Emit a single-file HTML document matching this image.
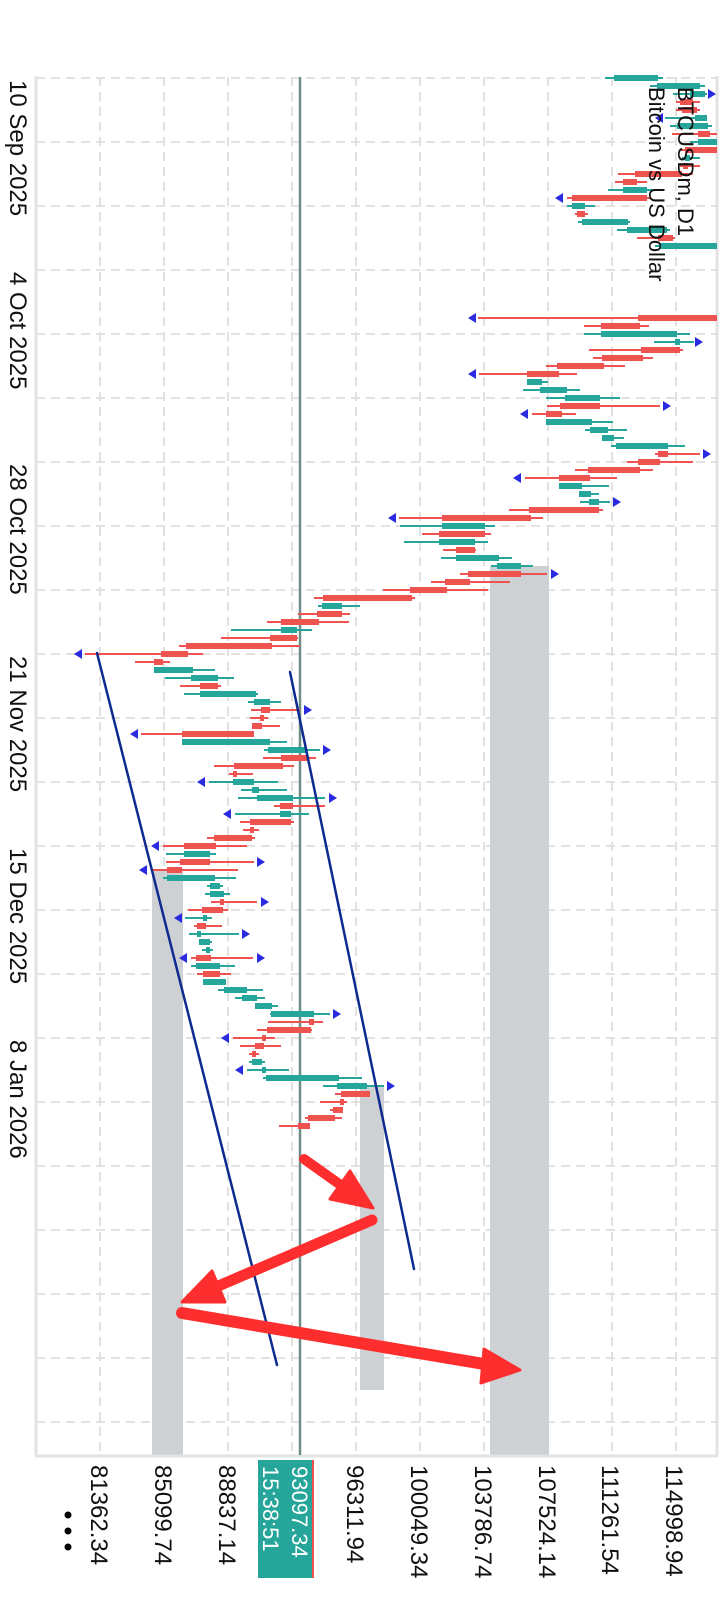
<!DOCTYPE html>
<html><head><meta charset="utf-8"><style>
html,body{margin:0;padding:0;background:#fff;}
svg{display:block;}
text{font-family:"Liberation Sans",sans-serif;}
</style></head><body>
<svg width="720" height="1600" viewBox="0 0 720 1600" xmlns="http://www.w3.org/2000/svg">
<rect width="720" height="1600" fill="#fff"/>
<g stroke="#e2e2e2" stroke-width="2" stroke-dasharray="9,6">
<line x1="100" y1="77" x2="100" y2="1455"/><line x1="164" y1="77" x2="164" y2="1455"/><line x1="228" y1="77" x2="228" y2="1455"/><line x1="292" y1="77" x2="292" y2="1455"/><line x1="356" y1="77" x2="356" y2="1455"/><line x1="420" y1="77" x2="420" y2="1455"/><line x1="484" y1="77" x2="484" y2="1455"/><line x1="548" y1="77" x2="548" y2="1455"/><line x1="612" y1="77" x2="612" y2="1455"/><line x1="676" y1="77" x2="676" y2="1455"/>
<line x1="36" y1="78" x2="717" y2="78"/><line x1="36" y1="142" x2="717" y2="142"/><line x1="36" y1="206" x2="717" y2="206"/><line x1="36" y1="270" x2="717" y2="270"/><line x1="36" y1="334" x2="717" y2="334"/><line x1="36" y1="398" x2="717" y2="398"/><line x1="36" y1="462" x2="717" y2="462"/><line x1="36" y1="526" x2="717" y2="526"/><line x1="36" y1="590" x2="717" y2="590"/><line x1="36" y1="654" x2="717" y2="654"/><line x1="36" y1="718" x2="717" y2="718"/><line x1="36" y1="782" x2="717" y2="782"/><line x1="36" y1="846" x2="717" y2="846"/><line x1="36" y1="910" x2="717" y2="910"/><line x1="36" y1="974" x2="717" y2="974"/><line x1="36" y1="1038" x2="717" y2="1038"/><line x1="36" y1="1102" x2="717" y2="1102"/><line x1="36" y1="1166" x2="717" y2="1166"/><line x1="36" y1="1230" x2="717" y2="1230"/><line x1="36" y1="1294" x2="717" y2="1294"/><line x1="36" y1="1358" x2="717" y2="1358"/><line x1="36" y1="1422" x2="717" y2="1422"/>
</g>
<g fill="#cdd1d4">
<rect x="152" y="870" width="31" height="586"/>
<rect x="360" y="1087" width="24" height="303"/>
<rect x="490" y="566" width="59" height="890"/>
</g>
<g stroke="#e3e3e3" stroke-width="3" fill="none">
<line x1="36" y1="76" x2="36" y2="1456"/><line x1="35" y1="1456" x2="718" y2="1456"/><line x1="717" y1="76" x2="717" y2="1456"/>
</g>
<line x1="300" y1="77" x2="300" y2="1455" stroke="#6e8c88" stroke-width="2.5"/>
<g stroke="#26a69a" stroke-width="2" fill="#26a69a">
<line x1="605" y1="78" x2="663" y2="78"/><rect x="614" y="75" width="44" height="6" stroke="none"/>
<line x1="650" y1="86" x2="705" y2="86"/><rect x="657" y="83" width="43" height="6" stroke="none"/>
<line x1="673" y1="94" x2="707" y2="94"/><rect x="690" y="91" width="15" height="6" stroke="none"/>
<line x1="665" y1="118" x2="707" y2="118"/><rect x="695" y="115" width="12" height="6" stroke="none"/>
<line x1="670" y1="126" x2="712" y2="126"/><rect x="677" y="123" width="31" height="6" stroke="none"/>
<line x1="690" y1="142" x2="717" y2="142"/><rect x="698" y="139" width="19" height="6" stroke="none"/>
<line x1="682" y1="158" x2="700" y2="158"/><rect x="685" y="155" width="5" height="6" stroke="none"/>
<line x1="608" y1="190" x2="657" y2="190"/><rect x="623" y="187" width="24" height="6" stroke="none"/>
<line x1="567" y1="206" x2="595" y2="206"/><rect x="572" y="203" width="13" height="6" stroke="none"/>
<line x1="578" y1="222" x2="630" y2="222"/><rect x="582" y="219" width="46" height="6" stroke="none"/>
<line x1="617" y1="230" x2="670" y2="230"/><rect x="627" y="227" width="40" height="6" stroke="none"/>
<line x1="655" y1="246" x2="717" y2="246"/><rect x="660" y="243" width="57" height="6" stroke="none"/>
<line x1="584" y1="334" x2="690" y2="334"/><rect x="601" y="331" width="76" height="6" stroke="none"/>
<line x1="654" y1="342" x2="694" y2="342"/><rect x="675" y="339" width="5" height="6" stroke="none"/>
<line x1="527" y1="382" x2="548" y2="382"/><rect x="527" y="379" width="15" height="6" stroke="none"/>
<line x1="523" y1="390" x2="580" y2="390"/><rect x="540" y="387" width="27" height="6" stroke="none"/>
<line x1="546" y1="398" x2="620" y2="398"/><rect x="565" y="395" width="35" height="6" stroke="none"/>
<line x1="546" y1="422" x2="613" y2="422"/><rect x="546" y="419" width="46" height="6" stroke="none"/>
<line x1="585" y1="430" x2="627" y2="430"/><rect x="590" y="427" width="18" height="6" stroke="none"/>
<line x1="602" y1="438" x2="624" y2="438"/><rect x="602" y="435" width="12" height="6" stroke="none"/>
<line x1="611" y1="446" x2="685" y2="446"/><rect x="616" y="443" width="52" height="6" stroke="none"/>
<line x1="559" y1="486" x2="609" y2="486"/><rect x="559" y="483" width="23" height="6" stroke="none"/>
<line x1="579" y1="494" x2="599" y2="494"/><rect x="579" y="491" width="12" height="6" stroke="none"/>
<line x1="580" y1="502" x2="610" y2="502"/><rect x="589" y="499" width="10" height="6" stroke="none"/>
<line x1="400" y1="526" x2="495" y2="526"/><rect x="442" y="523" width="43" height="6" stroke="none"/>
<line x1="404" y1="542" x2="488" y2="542"/><rect x="439" y="539" width="36" height="6" stroke="none"/>
<line x1="441" y1="558" x2="512" y2="558"/><rect x="456" y="555" width="43" height="6" stroke="none"/>
<line x1="491" y1="566" x2="533" y2="566"/><rect x="497" y="563" width="24" height="6" stroke="none"/>
<line x1="318" y1="606" x2="360" y2="606"/><rect x="322" y="603" width="20" height="6" stroke="none"/>
<line x1="231" y1="630" x2="312" y2="630"/><rect x="281" y="627" width="16" height="6" stroke="none"/>
<line x1="154" y1="670" x2="215" y2="670"/><rect x="154" y="667" width="39" height="6" stroke="none"/>
<line x1="165" y1="678" x2="234" y2="678"/><rect x="191" y="675" width="27" height="6" stroke="none"/>
<line x1="184" y1="694" x2="258" y2="694"/><rect x="200" y="691" width="56" height="6" stroke="none"/>
<line x1="248" y1="702" x2="281" y2="702"/><rect x="254" y="699" width="16" height="6" stroke="none"/>
<line x1="182" y1="742" x2="287" y2="742"/><rect x="182" y="739" width="88" height="6" stroke="none"/>
<line x1="264" y1="750" x2="320" y2="750"/><rect x="268" y="747" width="39" height="6" stroke="none"/>
<line x1="209" y1="782" x2="278" y2="782"/><rect x="233" y="779" width="21" height="6" stroke="none"/>
<line x1="241" y1="790" x2="287" y2="790"/><rect x="252" y="787" width="7" height="6" stroke="none"/>
<line x1="238" y1="798" x2="325" y2="798"/><rect x="257" y="795" width="36" height="6" stroke="none"/>
<line x1="235" y1="814" x2="309" y2="814"/><rect x="280" y="811" width="11" height="6" stroke="none"/>
<line x1="166" y1="854" x2="216" y2="854"/><rect x="184" y="851" width="26" height="6" stroke="none"/>
<line x1="163" y1="878" x2="236" y2="878"/><rect x="167" y="875" width="48" height="6" stroke="none"/>
<line x1="207" y1="886" x2="223" y2="886"/><rect x="210" y="883" width="10" height="6" stroke="none"/>
<line x1="205" y1="894" x2="230" y2="894"/><rect x="210" y="891" width="14" height="6" stroke="none"/>
<line x1="185" y1="918" x2="212" y2="918"/><rect x="203" y="915" width="4" height="6" stroke="none"/>
<line x1="189" y1="934" x2="239" y2="934"/><rect x="197" y="931" width="4" height="6" stroke="none"/>
<line x1="199" y1="942" x2="212" y2="942"/><rect x="199" y="939" width="11" height="6" stroke="none"/>
<line x1="202" y1="950" x2="213" y2="950"/><rect x="206" y="947" width="4" height="6" stroke="none"/>
<line x1="191" y1="966" x2="235" y2="966"/><rect x="196" y="963" width="24" height="6" stroke="none"/>
<line x1="203" y1="982" x2="226" y2="982"/><rect x="203" y="979" width="23" height="6" stroke="none"/>
<line x1="218" y1="990" x2="263" y2="990"/><rect x="224" y="987" width="23" height="6" stroke="none"/>
<line x1="235" y1="998" x2="265" y2="998"/><rect x="242" y="995" width="15" height="6" stroke="none"/>
<line x1="255" y1="1006" x2="278" y2="1006"/><rect x="255" y="1003" width="17" height="6" stroke="none"/>
<line x1="270" y1="1014" x2="330" y2="1014"/><rect x="271" y="1011" width="43" height="6" stroke="none"/>
<line x1="249" y1="1062" x2="265" y2="1062"/><rect x="252" y="1059" width="10" height="6" stroke="none"/>
<line x1="247" y1="1070" x2="289" y2="1070"/><rect x="262" y="1067" width="4" height="6" stroke="none"/>
<line x1="263" y1="1078" x2="362" y2="1078"/><rect x="266" y="1075" width="73" height="6" stroke="none"/>
<line x1="323" y1="1086" x2="384" y2="1086"/><rect x="337" y="1083" width="30" height="6" stroke="none"/>
</g>
<g stroke="#ef5350" stroke-width="2" fill="#ef5350">
<line x1="676" y1="102" x2="700" y2="102"/><rect x="680" y="99" width="13" height="6" stroke="none"/>
<line x1="676" y1="110" x2="700" y2="110"/><rect x="682" y="107" width="15" height="6" stroke="none"/>
<line x1="672" y1="134" x2="717" y2="134"/><rect x="698" y="131" width="12" height="6" stroke="none"/>
<line x1="680" y1="150" x2="717" y2="150"/><rect x="685" y="147" width="32" height="6" stroke="none"/>
<line x1="680" y1="166" x2="700" y2="166"/><rect x="683" y="163" width="5" height="6" stroke="none"/>
<line x1="618" y1="174" x2="693" y2="174"/><rect x="635" y="171" width="47" height="6" stroke="none"/>
<line x1="615" y1="182" x2="647" y2="182"/><rect x="623" y="179" width="14" height="6" stroke="none"/>
<line x1="567" y1="198" x2="650" y2="198"/><rect x="572" y="195" width="75" height="6" stroke="none"/>
<line x1="575" y1="214" x2="588" y2="214"/><rect x="577" y="211" width="8" height="6" stroke="none"/>
<line x1="637" y1="238" x2="675" y2="238"/><rect x="658" y="235" width="15" height="6" stroke="none"/>
<line x1="478" y1="318" x2="717" y2="318"/><rect x="638" y="315" width="79" height="6" stroke="none"/>
<line x1="584" y1="326" x2="649" y2="326"/><rect x="601" y="323" width="39" height="6" stroke="none"/>
<line x1="589" y1="350" x2="683" y2="350"/><rect x="641" y="347" width="39" height="6" stroke="none"/>
<line x1="593" y1="358" x2="653" y2="358"/><rect x="602" y="355" width="41" height="6" stroke="none"/>
<line x1="546" y1="366" x2="625" y2="366"/><rect x="557" y="363" width="47" height="6" stroke="none"/>
<line x1="479" y1="374" x2="577" y2="374"/><rect x="527" y="371" width="32" height="6" stroke="none"/>
<line x1="547" y1="406" x2="660" y2="406"/><rect x="560" y="403" width="40" height="6" stroke="none"/>
<line x1="532" y1="414" x2="576" y2="414"/><rect x="546" y="411" width="16" height="6" stroke="none"/>
<line x1="655" y1="454" x2="700" y2="454"/><rect x="658" y="451" width="10" height="6" stroke="none"/>
<line x1="627" y1="462" x2="693" y2="462"/><rect x="638" y="459" width="22" height="6" stroke="none"/>
<line x1="575" y1="470" x2="653" y2="470"/><rect x="588" y="467" width="52" height="6" stroke="none"/>
<line x1="525" y1="478" x2="617" y2="478"/><rect x="559" y="475" width="31" height="6" stroke="none"/>
<line x1="509" y1="510" x2="603" y2="510"/><rect x="529" y="507" width="70" height="6" stroke="none"/>
<line x1="399" y1="518" x2="543" y2="518"/><rect x="442" y="515" width="89" height="6" stroke="none"/>
<line x1="422" y1="534" x2="491" y2="534"/><rect x="439" y="531" width="46" height="6" stroke="none"/>
<line x1="443" y1="550" x2="476" y2="550"/><rect x="456" y="547" width="19" height="6" stroke="none"/>
<line x1="460" y1="574" x2="547" y2="574"/><rect x="468" y="571" width="53" height="6" stroke="none"/>
<line x1="431" y1="582" x2="510" y2="582"/><rect x="445" y="579" width="25" height="6" stroke="none"/>
<line x1="383" y1="590" x2="488" y2="590"/><rect x="410" y="587" width="37" height="6" stroke="none"/>
<line x1="314" y1="598" x2="415" y2="598"/><rect x="323" y="595" width="89" height="6" stroke="none"/>
<line x1="298" y1="614" x2="350" y2="614"/><rect x="317" y="611" width="25" height="6" stroke="none"/>
<line x1="267" y1="622" x2="349" y2="622"/><rect x="281" y="619" width="38" height="6" stroke="none"/>
<line x1="221" y1="638" x2="298" y2="638"/><rect x="270" y="635" width="27" height="6" stroke="none"/>
<line x1="179" y1="646" x2="300" y2="646"/><rect x="186" y="643" width="86" height="6" stroke="none"/>
<line x1="85" y1="654" x2="203" y2="654"/><rect x="161" y="651" width="27" height="6" stroke="none"/>
<line x1="135" y1="662" x2="170" y2="662"/><rect x="154" y="659" width="9" height="6" stroke="none"/>
<line x1="180" y1="686" x2="221" y2="686"/><rect x="200" y="683" width="18" height="6" stroke="none"/>
<line x1="251" y1="710" x2="300" y2="710"/><rect x="261" y="707" width="9" height="6" stroke="none"/>
<line x1="250" y1="718" x2="268" y2="718"/><rect x="260" y="715" width="4" height="6" stroke="none"/>
<line x1="252" y1="726" x2="280" y2="726"/><rect x="252" y="723" width="10" height="6" stroke="none"/>
<line x1="141" y1="734" x2="254" y2="734"/><rect x="182" y="731" width="72" height="6" stroke="none"/>
<line x1="263" y1="758" x2="316" y2="758"/><rect x="281" y="755" width="26" height="6" stroke="none"/>
<line x1="214" y1="766" x2="294" y2="766"/><rect x="234" y="763" width="49" height="6" stroke="none"/>
<line x1="229" y1="774" x2="253" y2="774"/><rect x="233" y="771" width="4" height="6" stroke="none"/>
<line x1="274" y1="806" x2="325" y2="806"/><rect x="280" y="803" width="13" height="6" stroke="none"/>
<line x1="240" y1="822" x2="294" y2="822"/><rect x="250" y="819" width="41" height="6" stroke="none"/>
<line x1="243" y1="830" x2="259" y2="830"/><rect x="250" y="827" width="4" height="6" stroke="none"/>
<line x1="207" y1="838" x2="255" y2="838"/><rect x="214" y="835" width="38" height="6" stroke="none"/>
<line x1="163" y1="846" x2="247" y2="846"/><rect x="184" y="843" width="32" height="6" stroke="none"/>
<line x1="166" y1="862" x2="254" y2="862"/><rect x="180" y="859" width="30" height="6" stroke="none"/>
<line x1="152" y1="870" x2="238" y2="870"/><rect x="167" y="867" width="15" height="6" stroke="none"/>
<line x1="211" y1="902" x2="257" y2="902"/><rect x="220" y="899" width="4" height="6" stroke="none"/>
<line x1="188" y1="910" x2="228" y2="910"/><rect x="202" y="907" width="21" height="6" stroke="none"/>
<line x1="194" y1="926" x2="222" y2="926"/><rect x="197" y="923" width="9" height="6" stroke="none"/>
<line x1="191" y1="958" x2="253" y2="958"/><rect x="196" y="955" width="15" height="6" stroke="none"/>
<line x1="197" y1="974" x2="231" y2="974"/><rect x="203" y="971" width="17" height="6" stroke="none"/>
<line x1="268" y1="1022" x2="323" y2="1022"/><rect x="309" y="1019" width="5" height="6" stroke="none"/>
<line x1="257" y1="1030" x2="312" y2="1030"/><rect x="267" y="1027" width="44" height="6" stroke="none"/>
<line x1="233" y1="1038" x2="275" y2="1038"/><rect x="262" y="1035" width="4" height="6" stroke="none"/>
<line x1="240" y1="1046" x2="281" y2="1046"/><rect x="255" y="1043" width="9" height="6" stroke="none"/>
<line x1="249" y1="1054" x2="259" y2="1054"/><rect x="252" y="1051" width="4" height="6" stroke="none"/>
<line x1="335" y1="1094" x2="370" y2="1094"/><rect x="341" y="1091" width="29" height="6" stroke="none"/>
<line x1="320" y1="1102" x2="347" y2="1102"/><rect x="340" y="1099" width="4" height="6" stroke="none"/>
<line x1="330" y1="1110" x2="343" y2="1110"/><rect x="333" y="1107" width="10" height="6" stroke="none"/>
<line x1="305" y1="1118" x2="342" y2="1118"/><rect x="308" y="1115" width="27" height="6" stroke="none"/>
<line x1="279" y1="1126" x2="310" y2="1126"/><rect x="298" y="1123" width="12" height="6" stroke="none"/>
</g>
<g fill="#2a2ae0">
<polygon points="716,94 708,89 708,99"/>
<polygon points="655,118 663,113 663,123"/>
<polygon points="555,198 563,193 563,203"/>
<polygon points="468,318 476,313 476,323"/>
<polygon points="703,342 695,337 695,347"/>
<polygon points="468,374 476,369 476,379"/>
<polygon points="671,406 663,401 663,411"/>
<polygon points="520,414 528,409 528,419"/>
<polygon points="711,454 703,449 703,459"/>
<polygon points="513,478 521,473 521,483"/>
<polygon points="621,502 613,497 613,507"/>
<polygon points="388,518 396,513 396,523"/>
<polygon points="559,574 551,569 551,579"/>
<polygon points="74,654 82,649 82,659"/>
<polygon points="312,710 304,705 304,715"/>
<polygon points="130,734 138,729 138,739"/>
<polygon points="331,750 323,745 323,755"/>
<polygon points="197,782 205,777 205,787"/>
<polygon points="337,798 329,793 329,803"/>
<polygon points="223,814 231,809 231,819"/>
<polygon points="151,846 159,841 159,851"/>
<polygon points="265,862 257,857 257,867"/>
<polygon points="139,870 147,865 147,875"/>
<polygon points="269,902 261,897 261,907"/>
<polygon points="174,918 182,913 182,923"/>
<polygon points="250,934 242,929 242,939"/>
<polygon points="179,958 187,953 187,963"/>
<polygon points="265,958 257,953 257,963"/>
<polygon points="341,1014 333,1009 333,1019"/>
<polygon points="221,1038 229,1033 229,1043"/>
<polygon points="235,1070 243,1065 243,1075"/>
<polygon points="395,1086 387,1081 387,1091"/>
</g>
<g stroke="#0d2b8e" stroke-width="2.5" stroke-linecap="round">
<line x1="97" y1="653" x2="277" y2="1365"/>
<line x1="290" y1="672" x2="414" y2="1269"/>
</g>
<g fill="#ff2e2e" stroke="#ff2e2e" stroke-linejoin="round" stroke-linecap="round">
<line x1="304" y1="1159" x2="342" y2="1186" stroke-width="10"/>
<polygon points="373,1208 330,1199 350,1171" stroke-width="3"/>
<line x1="372" y1="1220" x2="216" y2="1287" stroke-width="11"/>
<polygon points="182,1302 212,1271 225,1302" stroke-width="3"/>
<line x1="182" y1="1313" x2="484" y2="1364" stroke-width="12"/>
<polygon points="520,1370 484,1349 481,1383" stroke-width="3"/>
</g>
<g fill="#111" font-size="22">
<text transform="translate(678,87) rotate(90)">BTCUSDm, D1</text>
<text transform="translate(649,87) rotate(90)">Bitcoin vs US Dollar</text>
</g>
<g fill="#111" font-size="24">
<text transform="translate(10,80) rotate(90)">10 Sep 2025</text>
<text transform="translate(10,272) rotate(90)">4 Oct 2025</text>
<text transform="translate(10,464) rotate(90)">28 Oct 2025</text>
<text transform="translate(10,656) rotate(90)">21 Nov 2025</text>
<text transform="translate(10,848) rotate(90)">15 Dec 2025</text>
<text transform="translate(10,1040) rotate(90)">8 Jan 2026</text>
</g>
<g fill="#111" font-size="24">
<text transform="translate(91,1465) rotate(90)">81362.34</text>
<text transform="translate(155,1465) rotate(90)">85099.74</text>
<text transform="translate(219,1465) rotate(90)">88837.14</text>
<text transform="translate(347,1465) rotate(90)">96311.94</text>
<text transform="translate(411,1465) rotate(90)">100049.34</text>
<text transform="translate(475,1465) rotate(90)">103786.74</text>
<text transform="translate(539,1465) rotate(90)">107524.14</text>
<text transform="translate(602,1465) rotate(90)">111261.54</text>
<text transform="translate(666,1465) rotate(90)">114998.94</text>
</g>
<rect x="258" y="1460" width="56" height="118" fill="#26a69a"/>
<line x1="313" y1="1460" x2="313" y2="1578" stroke="#ef5350" stroke-width="2"/>
<g fill="#fff" font-size="22">
<text transform="translate(292,1466) rotate(90)">93097.34</text>
<text transform="translate(263,1466) rotate(90)">15:38:51</text>
</g>
<g fill="#000">
<circle cx="68" cy="1515" r="3.5"/><circle cx="68" cy="1531" r="3.5"/><circle cx="68" cy="1547" r="3.5"/>
</g>
</svg>
</body></html>
